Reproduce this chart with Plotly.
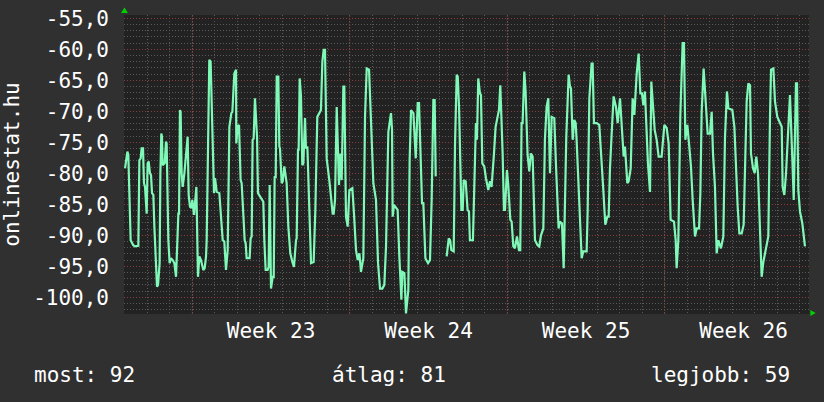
import plotly.graph_objects as go

# hours since start of chart, signal level (dBm); None = gap
hours = [1.1, 2.8, 3.6, 4.6, 5.3, 6.0, 7.1, 9.9, 11.7, 15.3, 16.4, 17.8, 18.8, 20.3, 21.3, 22.4, 23.5, 24.2, 25.2, 26.3,
         27.7, 28.8, 29.9, 31.3, 32.4, 33.4, 34.1, 35.2, 36.3, 37.3, 38.0, 38.8, 39.8, 40.5, 41.2, 43.4, 44.8, 45.5, 47.3, 48.7,
         50.1, 51.9, 53.7, 55.5, 58.0, 58.7, 59.7, 60.4, 61.5, 62.6, 64.4, 66.8, 67.9, 69.0, 70.4, 71.8, 72.9, 74.7, 77.2, 78.9,
         80.4, 82.1, 84.6, 86.1, 87.5, 88.2, 89.6, 91.0, 92.4, 93.5, 94.9, 96.0, 97.1, 98.9, 101.7, 103.5, 105.3, 107.0, 108.8, 110.6,
         112.4, 114.5, 115.6, 117.7, 119.5, 119.8, 121.2, 122.7, 123.4, 124.4, 125.5, 126.9, 127.6, 128.7, 129.8, 130.8, 134.0, 135.1, 136.2, 137.2,
         138.3, 139.7, 141.2, 141.9, 142.9, 145.1, 146.8, 148.6, 149.7, 151.1, 153.2, 154.3, 155.4, 156.8, 158.6, 159.7, 160.7, 161.8, 162.9, 164.6,
         165.7, 166.4, 168.2, 169.3, 171.0, 172.5, 173.5, 175.3, 177.4, 179.6, 181.3, 183.5, 184.2, 185.6, 186.3, 187.4, 188.8, 190.2, 191.3, 193.1,
         194.1, 195.6, 197.0, 197.7, 199.5, 202.3, 204.1, 206.2, 208.7, 210.1, 211.6, 213.0, 214.4, 216.2, 219.0, 220.5, 222.6, 223.7, 225.1, 226.9,
         229.3, 230.8, 232.2, 234.0, 235.0, 236.8, 238.6, 240.4, 243.6, 245.4, 247.5, 249.3, 251.1, 252.8, 255.3, 257.1, 258.9, 261.4, 263.9, 266.0,
         268.8, 271.0, 273.1, 275.6, 277.7, 279.5, 282.0, 284.8, 285.9, 286.6, 288.0, 291.9, 293.7, 295.9, 296.9, 299.1, 300.8, 303.3, 304.7, 306.2,
         308.7, 311.2, 313.3, 314.7, 317.9, 319.3, 321.5, 324.3, 326.4, 328.2, 330.0, 331.4, 332.5, 338.0, 344.2, 346.4, 347.8, 349.2, 351.7, 353.1,
         354.9, 356.0, 357.4, 359.9, 361.3, 362.4, 364.5, 366.5, 368.0, 369.0, 372.2, 373.7, 374.4, 375.4, 376.5, 377.9, 379.7, 380.8, 382.2, 384.3,
         386.1, 388.6, 390.4, 392.1, 394.6, 396.4, 398.5, 400.0, 401.4, 402.8, 403.9, 405.3, 406.4, 408.5, 409.9, 412.1, 413.5, 415.3, 417.0, 419.2,
         421.3, 422.7, 424.1, 425.2, 427.0, 428.4, 430.5, 432.3, 434.1, 435.9, 438.4, 441.2, 443.0, 444.8, 447.3, 449.0, 450.8, 452.6, 454.4, 456.2,
         459.0, 460.8, 462.6, 463.6, 465.0, 467.2, 469.0, 470.4, 471.8, 474.3, 475.7, 476.8, 478.6, 480.3, 481.8, 482.8, 484.6, 486.4, 488.2, 489.9,
         493.5, 494.6, 496.4, 498.8, 499.9, 501.3, 504.2, 507.0, 508.8, 511.3, 513.4, 515.6, 517.0, 518.4, 520.5, 522.3, 524.8, 526.6, 529.1, 531.2,
         533.0, 534.4, 536.9, 538.3, 540.5, 542.6, 544.4, 546.9, 549.0, 550.8, 552.5, 554.0, 555.7, 558.9, 561.1, 562.5, 564.3, 566.1, 568.2, 570.3,
         573.5, 576.4, 578.9, 581.0, 583.1, 586.7, 588.5, 589.5, 591.3, 593.4, 595.9, 597.3, 598.8, 600.9, 603.0, 604.8, 606.6, 608.4, 609.1, 610.9,
         613.4, 614.8, 616.2, 618.3, 620.8, 622.6, 625.1, 626.9, 628.3, 630.4, 632.2, 634.0, 636.8, 639.3, 641.1, 643.2, 644.7, 648.9, 651.1, 652.8,
         654.6, 656.4, 658.9, 661.0, 662.4, 664.2, 666.0, 667.8, 668.8, 671.0, 672.8, 674.5, 676.3, 678.4, 680.2, 682.0, 684.5, 687.3, 689.1, 690.2,
         692.7, 694.4, 696.9, 699.8, 701.6, 702.6, 704.4, 706.2, 708.0, 710.4, 712.9, 714.4, 716.8, 717.9, 719.3, 721.1, 723.6, 726.4]

signal = [-79.2, -76.8, -76.5, -77.0, -81.1, -81.1, -90.8, -91.6, -91.8, -91.7, -77.9, -77.6, -76.0, -76.0, -81.6, -82.2, -86.5, -86.5, -78.4, -78.1,
          -80.0, -80.3, -83.2, -83.5, -88.6, -92.9, -95.1, -98.3, -98.0, -95.1, -94.5, -80.0, -73.6, -74.1, -78.7, -78.4, -74.9, -75.2, -90.8, -94.5,
          -93.7, -94.0, -94.5, -96.7, -86.5, -86.5, -69.8, -70.1, -80.0, -82.2, -80.0, -74.9, -74.1, -83.5, -85.4, -85.6, -84.3, -86.7, -82.2, -96.7,
          -93.4, -94.0, -95.6, -95.3, -93.4, -90.8, -71.9, -61.7, -62.0, -69.8, -77.3, -83.2, -80.8, -83.0, -83.2, -87.5, -90.8, -91.0, -95.6, -92.4,
          -72.5, -70.3, -70.1, -63.9, -63.3, -75.2, -72.5, -72.2, -75.2, -81.1, -81.6, -87.0, -87.5, -90.8, -91.3, -93.7, -93.7, -90.5, -90.2, -74.6,
          -74.4, -67.9, -74.1, -74.1, -83.2, -83.8, -84.3, -84.6, -90.8, -95.6, -95.6, -95.1, -81.9, -98.6, -96.7, -96.7, -80.5, -80.8, -64.4, -64.4,
          -75.7, -76.0, -81.6, -81.3, -78.9, -81.1, -81.6, -88.6, -92.9, -94.3, -95.1, -90.8, -90.5, -76.2, -76.2, -64.7, -67.6, -78.7, -78.4, -71.1,
          -76.0, -75.7, -83.2, -85.9, -94.5, -94.3, -85.9, -70.9, -70.3, -69.8, -62.0, -60.1, -60.1, -77.6, -81.1, -83.2, -86.5, -86.5, -84.3, -69.3,
          -81.9, -76.8, -81.1, -66.0, -66.0, -87.0, -88.6, -82.7, -82.4, -86.7, -92.4, -94.0, -92.9, -95.9, -93.7, -70.9, -63.1, -63.3, -75.2, -81.6,
          -84.3, -94.5, -98.6, -98.6, -98.0, -91.8, -73.3, -70.3, -73.0, -87.0, -85.1, -85.9, -93.4, -100.4, -95.9, -96.1, -102.6, -98.8, -77.9, -69.8,
          -70.3, -77.6, -68.7, -68.7, -84.8, -84.8, -93.7, -94.5, -94.0, -84.3, -68.2, -68.2, -80.5, None, -93.4, -90.5, -90.8, -92.4, -92.6, -75.4,
          -64.1, -64.4, -69.3, -85.9, -85.9, -81.1, -81.3, -85.9, -86.2, -90.8, -90.8, -80.0, -80.0, -71.9, -74.6, -64.7, -67.1, -67.4, -78.4, -78.9,
          -80.8, -82.7, -81.3, -82.2, -77.0, -72.5, -70.9, -69.8, -65.8, -71.4, -76.8, -85.9, -85.9, -79.5, -81.9, -87.5, -87.8, -91.8, -92.1, -90.2,
          -92.4, -92.4, -71.9, -71.9, -63.6, -66.8, -77.0, -79.7, -76.8, -77.3, -90.8, -91.6, -91.8, -90.0, -88.9, -74.6, -69.3, -67.9, -80.0, -70.9,
          -71.1, -78.7, -84.3, -88.9, -87.8, -88.1, -95.3, -85.4, -74.1, -64.1, -66.0, -66.3, -74.6, -71.4, -71.9, -74.6, -81.1, -85.4, -93.7, -92.6,
          -92.6, -85.9, -67.9, -62.3, -62.3, -71.9, -71.9, -72.2, -76.2, -82.7, -88.3, -87.0, -87.0, -79.2, -72.7, -67.6, -69.3, -71.9, -67.9, -74.1,
          -77.3, -75.7, -81.6, -81.3, -79.2, -67.9, -70.6, -63.9, -60.7, -67.1, -67.1, -69.0, -66.8, -78.4, -83.0, -65.2, -68.7, -73.0, -74.6, -77.3,
          -77.3, -72.2, -72.7, -75.2, -87.5, -87.8, -90.8, -95.3, -90.8, -70.9, -59.0, -59.0, -74.6, -72.2, -75.7, -78.9, -84.3, -88.6, -90.2, -88.9,
          -88.9, -83.2, -70.1, -63.1, -68.4, -73.6, -73.6, -70.1, -76.8, -82.2, -92.9, -90.8, -92.1, -90.2, -74.1, -66.8, -69.5, -69.8, -72.5, -79.5,
          -85.4, -89.7, -89.7, -88.3, -79.5, -68.4, -65.5, -65.8, -76.8, -79.2, -80.0, -77.3, -80.0, -89.7, -96.7, -94.3, -92.1, -90.2, -70.9, -63.3,
          -63.1, -68.4, -70.9, -71.9, -72.5, -82.2, -83.5, -80.0, -74.1, -67.4, -77.6, -84.3, -65.5, -65.5, -82.7, -86.2, -88.1, -91.8]

y_ticks = [-55, -60, -65, -70, -75, -80, -85, -90, -95, -100]
y_labels = ["-55,0", "-60,0", "-65,0", "-70,0", "-75,0", "-80,0", "-85,0", "-90,0", "-95,0", "-100,0"]
week_starts = [72.85, 240.85, 408.85, 576.85]
week_mid = [156.85, 324.85, 492.85, 660.85]
week_labels = ["Week 23", "Week 24", "Week 25", "Week 26"]
day_lines = [0.85 + 24 * i for i in range(31)]
x_range = [0, 730.7]
y_range = [-102.7, -54.47]

stats = [("most: 92", -0.1328, "left"), ("átlag: 81", 0.302, "left"), ("legjobb: 59", 0.9737, "right")]

FONT = "DejaVu Sans Mono"
FS = 21
LINE = "#80f8b8"
MAJOR = "#8a3c3c"
MINOR = "#5a5a5a"
DOTS = "1px,2px"

fig = go.Figure()
fig.add_trace(go.Scatter(x=hours, y=signal, mode="lines", connectgaps=False,
                         line=dict(color=LINE, width=2.2), hoverinfo="skip"))

shapes = []
for w in week_starts:
    shapes.append(dict(type="line", xref="x", yref="paper", x0=w, x1=w, y0=0, y1=1,
                       line=dict(color=MAJOR, width=1, dash=DOTS), layer="below"))
# axis arrows
shapes.append(dict(type="path", xref="paper", yref="paper",
                   path="M -0.0044 1.0067 L 0.0058 1.0067 L 0.0007 1.025 Z",
                   fillcolor="#00d000", line=dict(width=0)))
shapes.append(dict(type="path", xref="paper", yref="paper",
                   path="M 1.002 0.0134 L 1.002 -0.0067 L 1.0098 0.0033 Z",
                   fillcolor="#00d000", line=dict(width=0)))

annotations = [dict(text=t, x=x, y=-0.204, xref="paper", yref="paper", xanchor=a, yanchor="middle",
                    showarrow=False, borderpad=0, font=dict(family=FONT, size=FS, color="white"))
               for t, x, a in stats]

fig.update_layout(
    width=824, height=402,
    margin=dict(l=124, r=15, t=15, b=88, autoexpand=False),
    paper_bgcolor="#303030", plot_bgcolor="#222222",
    showlegend=False,
    font=dict(family=FONT, size=FS, color="white"),
    shapes=shapes, annotations=annotations,
    xaxis=dict(range=x_range, tickmode="array", tickvals=week_mid, ticktext=week_labels,
               showgrid=False, zeroline=False, showline=False, ticks="", automargin=False,
               ticklabelstandoff=2,
               tickfont=dict(family=FONT, size=FS, color="white"),
               minor=dict(tickmode="array", tickvals=day_lines, showgrid=True,
                          gridcolor=MINOR, griddash=DOTS, gridwidth=1)),
    yaxis=dict(range=y_range, tickmode="array", tickvals=y_ticks, ticktext=y_labels,
               showgrid=True, gridcolor=MAJOR, griddash=DOTS, gridwidth=1,
               zeroline=False, showline=False, ticks="", ticklabelstandoff=14, automargin=False,
               tickfont=dict(family=FONT, size=FS, color="white"),
               title=dict(text="onlinestat.hu", font=dict(family=FONT, size=FS, color="white"), standoff=7),
               minor=dict(dtick=1, tick0=-55, showgrid=True, gridcolor=MINOR, griddash=DOTS, gridwidth=1)),
)

fig.write_html("out.html")
